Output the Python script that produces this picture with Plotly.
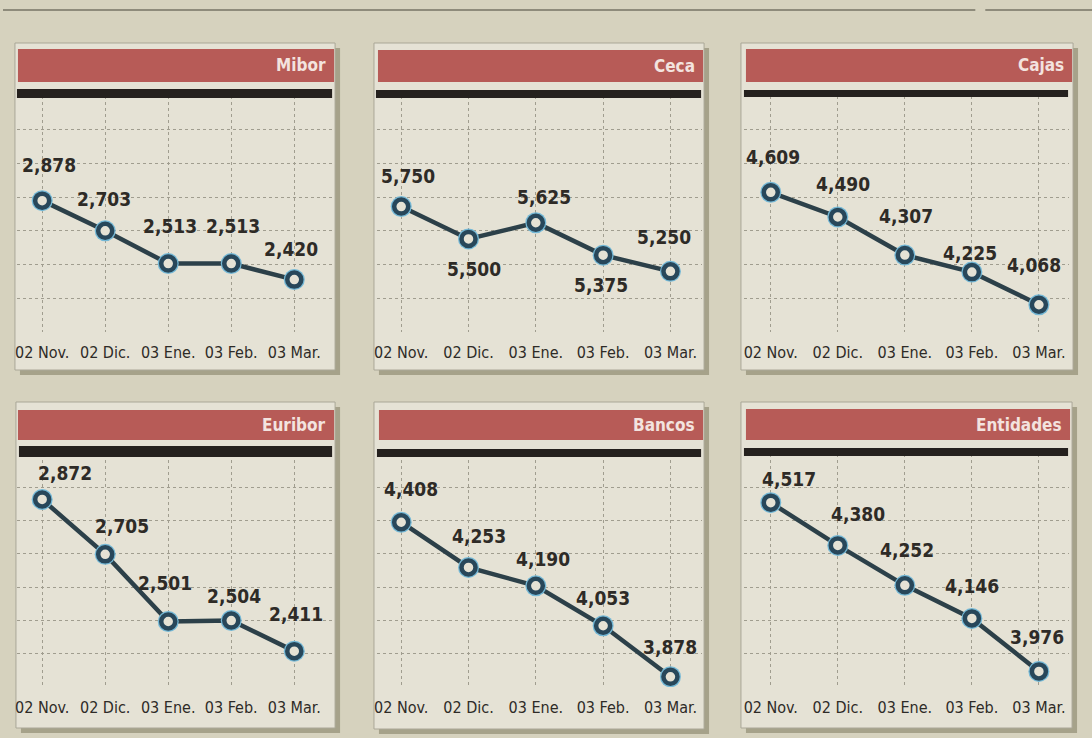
import plotly.graph_objects as go

# ---------------- data ----------------
CATEGORIES = ["02 Nov.", "02 Dic.", "03 Ene.", "03 Feb.", "03 Mar."]
TITLES = ["Mibor", "Ceca", "Cajas", "Euribor", "Bancos", "Entidades"]
MIBOR = [2.878, 2.703, 2.513, 2.513, 2.420]
CECA = [5.750, 5.500, 5.625, 5.375, 5.250]
CAJAS = [4.609, 4.490, 4.307, 4.225, 4.068]
EURIBOR = [2.872, 2.705, 2.501, 2.504, 2.411]
BANCOS = [4.408, 4.253, 4.190, 4.053, 3.878]
ENTIDADES = [4.517, 4.380, 4.252, 4.146, 3.976]
SERIES = [MIBOR, CECA, CAJAS, EURIBOR, BANCOS, ENTIDADES]

# ---------------- layout / style ----------------
W, H = 1092, 738
PAPER = "#d6d2be"
PANEL_BG = "#e5e2d5"
SHADOW = "#a6a28a"
RED = "#b75b57"
BLACK = "#25211e"
GRID = "#a09d8f"
LINE = "#2c4049"
RING = "#28475a"
HALO = "#74b8d6"
TEXT = "#2e2b27"
FONT = "DejaVu Sans Condensed, Liberation Sans Narrow, Liberation Sans, sans-serif"

BOX = [(12, 43, 333, 370), (372, 43, 703, 370), (740, 43, 1073, 370),
       (13, 402, 333, 728), (372, 402, 703, 729), (740, 402, 1072, 728)]
REDBAR = [(15, 49, 332, 82), (376, 50, 702, 82), (745, 49, 1072, 82),
          (15, 410, 332, 440), (377, 410, 702, 440), (745, 409, 1070, 440)]
BLACKBAR = [(14, 89, 330, 98), (374, 90, 700, 98), (743, 90, 1068, 97),
            (16, 446, 330, 457), (375, 449, 700, 457), (743, 448, 1068, 456)]
PLOT_X = [(14, 330), (375, 701), (743, 1069)]
PLOT_Y = [(96, 332), (454, 687)]
X_RANGES = [(-0.40, 4.60), (-0.36, 4.47), (-0.40, 4.45)]
Y_RANGES = [(2.116, 3.485), (4.782, 6.603), (3.937, 5.072),
            (2.302, 3.010), (3.843, 4.642), (3.926, 4.673)]
# label offsets (dx, dy) in px relative to point
LABEL_OFF = [
    [(7, 36), (-1, 32), (2, 38), (2, 38), (-3, 31)],
    [(7, 31), (5, -30), (8, 26), (-2, -30), (-6, 34)],
    [(2, 35), (5, 33), (1, 39), (-2, 19), (-5, 40)],
    [(23, 26), (17, 28), (-3, 39), (3, 25), (2, 37)],
    [(10, 33), (10, 31), (7, 27), (0, 28), (0, 30)],
    [(18, 24), (20, 31), (2, 35), (0, 32), (-2, 34)],
]


def fx(px):
    return px / W


def fy(py):
    return 1 - py / H


def rect(b, fill, line_color=None, line_width=0):
    x0, y0, x1, y1 = b
    return dict(type="rect", xref="paper", yref="paper", layer="below",
                x0=fx(x0), x1=fx(x1), y0=fy(y1), y1=fy(y0),
                fillcolor=fill,
                line=dict(color=line_color or fill, width=line_width))


fig = go.Figure()
shapes = []
annotations = []
layout_axes = {}

# top rule
shapes.append(dict(type="line", xref="paper", yref="paper", layer="below",
                   x0=0, x1=fx(975), y0=fy(10), y1=fy(10),
                   line=dict(color="#8e8b7b", width=2)))
shapes.append(dict(type="line", xref="paper", yref="paper", layer="below",
                   x0=fx(985), x1=1, y0=fy(10), y1=fy(10),
                   line=dict(color="#8e8b7b", width=2)))

for i, (title, vals) in enumerate(zip(TITLES, SERIES)):
    r, c = divmod(i, 3)
    n = i + 1
    xs = "x" if n == 1 else f"x{n}"
    ys = "y" if n == 1 else f"y{n}"
    bx0, by0, bx1, by1 = BOX[i]
    shapes.append(rect((bx0 + 5, by0 + 5, bx1 + 5, by1 + 5), SHADOW))
    shapes.append(rect(BOX[i], PANEL_BG, "#aaa797", 1))
    shapes.append(rect(REDBAR[i], RED))

    px0, px1 = PLOT_X[c]
    py0, py1 = PLOT_Y[r]
    ylo, yhi = Y_RANGES[i]
    tickvals = [ylo + (yhi - ylo) * k / 7 for k in range(7)]

    layout_axes["xaxis" if n == 1 else f"xaxis{n}"] = dict(
        domain=[fx(px0), fx(px1)], anchor=ys, type="category",
        categoryorder="array", categoryarray=CATEGORIES,
        range=list(X_RANGES[c]), showgrid=True, gridcolor=GRID, gridwidth=1,
        griddash="dot", zeroline=False, showline=False, ticks="",
        tickangle=0, ticklabelstandoff=9,
        tickfont=dict(family=FONT, size=16, color=TEXT), fixedrange=True)
    layout_axes["yaxis" if n == 1 else f"yaxis{n}"] = dict(
        domain=[fy(py1), fy(py0)], anchor=xs, range=[ylo, yhi],
        tickvals=tickvals, showticklabels=False, showgrid=True,
        gridcolor=GRID, gridwidth=1, griddash="dot", zeroline=False,
        showline=False, ticks="", fixedrange=True)

    fig.add_trace(go.Scatter(x=CATEGORIES, y=vals, mode="lines",
                             line=dict(color=LINE, width=4.5),
                             xaxis=xs, yaxis=ys, hoverinfo="skip",
                             showlegend=False))
    fig.add_trace(go.Scatter(x=CATEGORIES, y=vals, mode="markers",
                             marker=dict(size=21, color=HALO),
                             xaxis=xs, yaxis=ys, hoverinfo="skip",
                             showlegend=False))
    fig.add_trace(go.Scatter(x=CATEGORIES, y=vals, mode="markers",
                             marker=dict(size=14, color=PANEL_BG,
                                         line=dict(color=RING, width=4.5)),
                             xaxis=xs, yaxis=ys, showlegend=False))

    for j, (cat, v) in enumerate(zip(CATEGORIES, vals)):
        dx, dy = LABEL_OFF[i][j]
        annotations.append(dict(
            x=cat, y=v, xref=xs, yref=ys, showarrow=False,
            xshift=dx, yshift=dy, text=f"{v:.3f}".replace(".", ","),
            font=dict(family=FONT, size=19, color=TEXT, weight="bold")))

    # title in red bar
    rx0, ry0, rx1, ry1 = REDBAR[i]
    annotations.append(dict(
        x=fx(rx1 - 6), y=fy((ry0 + ry1) / 2), xref="paper", yref="paper",
        xanchor="right", yanchor="middle", showarrow=False, text=title,
        font=dict(family=FONT, size=17, color="#f3e3df", weight="bold")))

# black bars drawn above grid (layer above)
for i in range(6):
    s = rect(BLACKBAR[i], BLACK)
    s["layer"] = "above"
    shapes.append(s)

fig.update_layout(
    width=W, height=H, margin=dict(l=0, r=0, t=0, b=0),
    paper_bgcolor=PAPER, plot_bgcolor="rgba(0,0,0,0)",
    shapes=shapes, annotations=annotations, showlegend=False,
    **layout_axes)

fig.write_html(
    "out.html",
    config={"displayModeBar": False},
    post_script="document.body.style.margin='0';document.body.style.overflow='hidden';",
)
